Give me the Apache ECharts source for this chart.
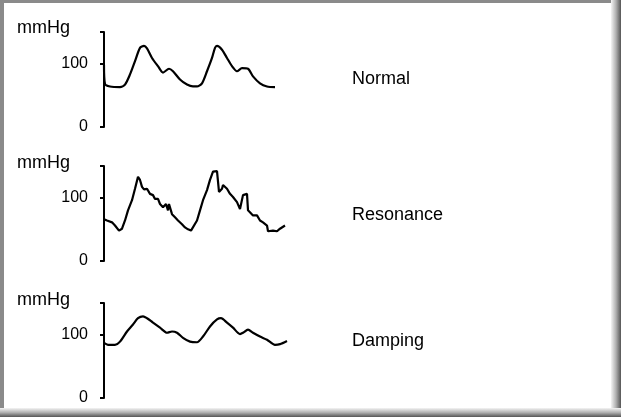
<!DOCTYPE html>
<html>
<head>
<meta charset="utf-8">
<script src="https://cdn.jsdelivr.net/npm/echarts@6/dist/echarts.min.js"></script>
<style>
html,body{margin:0;padding:0;background:#fff;}
#c{width:621px;height:417px;}
</style>
</head>
<body>
<div id="c"></div>
<script>
// Traces: [time (arbitrary units from axis), pressure mmHg]
var normalTrace = [[0,98],[1,68],[6,64],[16,63],[21,67],[26,83],[31,104],[36,125],[40,128],[43,124],[48,109],[54,96],[59,86],[65,92],[69,88],[76,75],[83,67],[89,64],[93,64],[98,69],[103,88],[108,109],[111,125],[113,128],[118,122],[123,109],[128,96],[133,88],[138,93],[144,92],[149,80],[156,69],[163,64],[171,63]];
var resonanceTrace = [[0,66],[3,64],[8,61],[11,56],[15,48],[18,51],[21,64],[24,80],[28,96],[31,114],[34,133],[36,128],[38,117],[40,113],[43,114],[46,106],[49,104],[51,98],[54,98],[56,90],[59,85],[62,90],[64,80],[65,90],[68,74],[71,69],[74,64],[78,58],[81,53],[84,50],[87,48],[89,50],[93,64],[96,80],[99,96],[103,112],[106,128],[109,141],[113,142],[115,109],[118,114],[119,120],[123,114],[126,106],[129,101],[133,93],[136,82],[139,104],[141,107],[143,106],[144,80],[146,77],[149,72],[153,72],[156,64],[159,61],[163,56],[164,47],[169,48],[173,47],[176,51],[181,56]];
var dampingTrace = [[0,87],[4,84],[11,84],[16,89],[23,105],[29,116],[34,126],[39,129],[43,126],[49,119],[56,111],[63,103],[68,105],[73,103],[79,95],[86,89],[93,88],[99,97],[106,113],[113,124],[117,126],[123,119],[129,111],[136,101],[139,103],[144,108],[149,103],[156,97],[163,92],[171,84],[176,85],[183,90]];
var panelNames = ['Normal','Resonance','Damping'];
var unitLabel = 'mmHg';
var tickValues = [0,100,150];
var labelValues = [0,100];

var traces = [normalTrace, resonanceTrace, dampingTrace];
var gridTops = [32, 166, 303];
var unitTops = [19, 154, 291];
var nameTops = [70, 206, 332];
var font = '"Liberation Sans", Arial, Helvetica, sans-serif';

var grids = [], xAxes = [], yAxes = [], series = [], graphics = [];
for (var i = 0; i < 3; i++) {
  grids.push({left:104, top:gridTops[i], width:190, height:95});
  xAxes.push({gridIndex:i, type:'value', min:0, max:190, show:false});
  yAxes.push({
    gridIndex:i, type:'value', min:0, max:150, interval:50, position:'left',
    axisLine:{show:true, lineStyle:{color:'#000', width:2}},
    axisTick:{show:true, length:4, customValues:tickValues, lineStyle:{color:'#000', width:2}},
    axisLabel:{show:true, customValues:labelValues, color:'#000', fontSize:16, margin:16, fontFamily:font},
    splitLine:{show:false}
  });
  series.push({
    type:'line', xAxisIndex:i, yAxisIndex:i, data:traces[i], showSymbol:false,
    smooth: i === 1 ? false : 0.25,
    lineStyle:{color:'#000', width:2.2}, silent:true, animation:false
  });
  graphics.push({type:'text', left:17, top:unitTops[i],
    style:{text:unitLabel, fill:'#000', font:'18px ' + font}});
  graphics.push({type:'text', left:352, top:nameTops[i],
    style:{text:panelNames[i], fill:'#000', font:'18px ' + font}});
}
// frame / shadow
graphics.push({type:'rect', left:0, top:0, shape:{width:4, height:417}, style:{fill:'#8a8a8a'}});
graphics.push({type:'rect', left:0, top:0, shape:{width:621, height:3}, style:{fill:'#8a8a8a'}});
graphics.push({type:'rect', left:611, top:0, shape:{width:10, height:417},
  style:{fill:new echarts.graphic.LinearGradient(0,0,1,0,[{offset:0,color:'#f4f4f4'},{offset:0.5,color:'#b0b0b0'},{offset:1,color:'#555'}])}});
graphics.push({type:'rect', left:0, top:408, shape:{width:621, height:9},
  style:{fill:new echarts.graphic.LinearGradient(0,0,0,1,[{offset:0,color:'#f4f4f4'},{offset:0.5,color:'#b0b0b0'},{offset:1,color:'#555'}])}});

var chart = echarts.init(document.getElementById('c'), null, {renderer:'canvas'});
chart.setOption({
  backgroundColor:'#fff',
  animation:false,
  grid:grids, xAxis:xAxes, yAxis:yAxes, series:series, graphic:graphics
});
</script>
</body>
</html>
